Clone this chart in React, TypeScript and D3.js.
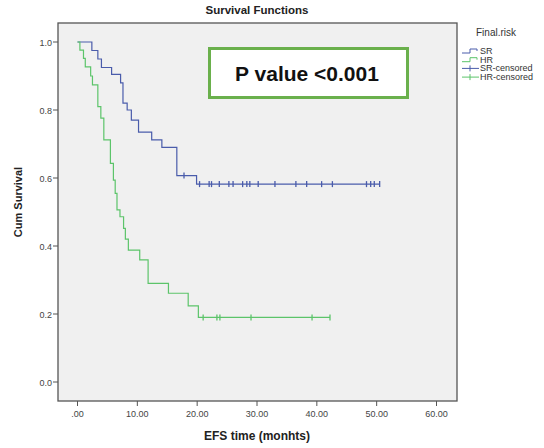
import React from 'react';
import * as d3 from 'd3';

// SR group: event times (months) and survival after each event
const srTimes = [0, 2.4, 3.4, 4.0, 5.7, 7.2, 7.6, 8.3, 9.0, 10.2, 12.4, 14.1, 16.6, 19.9];
const srSurv = [1.0, 0.975, 0.95, 0.925, 0.905, 0.88, 0.82, 0.80, 0.77, 0.735, 0.712, 0.69, 0.607, 0.582];
const srCensored = [17.8, 20.4, 22.0, 22.4, 23.7, 25.3, 26.0, 27.6, 28.3, 28.8, 30.2, 33.0, 36.5, 38.3, 40.8, 42.6, 48.3, 49.0, 49.6, 50.5];

// HR group
const hrTimes = [0, 0.4, 1.0, 1.3, 2.2, 2.5, 3.4, 3.9, 4.4, 5.5, 6.0, 6.3, 6.6, 7.1, 7.7, 8.0, 8.5, 10.4, 11.8, 15.2, 18.5, 20.2];
const hrSurv = [1.0, 0.976, 0.952, 0.927, 0.90, 0.874, 0.81, 0.776, 0.712, 0.643, 0.594, 0.555, 0.506, 0.486, 0.452, 0.42, 0.388, 0.359, 0.29, 0.261, 0.224, 0.19];
const hrCensored = [21.0, 23.3, 23.8, 29.0, 39.2, 42.2];

const xTicks = [0, 10, 20, 30, 40, 50, 60];
const yTicks = [0, 0.2, 0.4, 0.6, 0.8, 1.0];
const legendItems = ['SR', 'HR', 'SR-censored', 'HR-censored'];

const colorSR = '#4a5cab';
const colorHR = '#5cc46a';
const font = 'Liberation Sans, Arial, sans-serif';

const frame = { left: 58, top: 23, right: 457, bottom: 401 };

export default function App() {
  const x = d3.scaleLinear().domain([0, 60]).range([77.5, 436.5]);
  const y = d3.scaleLinear().domain([0, 1]).range([382, 42]);
  const line = d3.line<[number, number]>()
    .x(d => x(d[0]))
    .y(d => y(d[1]))
    .curve(d3.curveStepAfter);

  const survAt = (times: number[], surv: number[], t: number) => {
    const i = d3.bisectRight(times, t) - 1;
    return surv[Math.max(0, i)];
  };

  const groups = [
    { times: srTimes, surv: srSurv, cens: srCensored, color: colorSR },
    { times: hrTimes, surv: hrSurv, cens: hrCensored, color: colorHR },
  ];

  return (
    <div style={{ position: 'absolute', left: 0, top: 0 }}>
      <svg width={544} height={448} style={{ display: 'block', fontFamily: font }}>
        <rect x={0} y={0} width={544} height={448} fill='#ffffff' />

        {/* title */}
        <text x={257} y={14} textAnchor='middle' fontSize={11.5} fontWeight='bold' fill='#222'>
          Survival Functions
        </text>

        {/* plot frame */}
        <rect
          x={frame.left}
          y={frame.top}
          width={frame.right - frame.left}
          height={frame.bottom - frame.top}
          fill='#f0f0f0'
          stroke='#555'
          strokeWidth={1.3}
        />

        {/* curves */}
        {groups.map((g, gi) => {
          const last = d3.max(g.cens) as number;
          const pts: [number, number][] = g.times.map((t, i) => [t, g.surv[i]]);
          pts.push([last, g.surv[g.surv.length - 1]]);
          return (
            <g key={gi}>
              <path d={line(pts) || ''} fill='none' stroke={g.color} strokeWidth={1.2} />
              {g.cens.map((t, i) => {
                const cx = x(t);
                const cy = y(survAt(g.times, g.surv, t));
                return (
                  <line key={i} x1={cx} x2={cx} y1={cy - 3} y2={cy + 3} stroke={g.color} strokeWidth={1.3} />
                );
              })}
            </g>
          );
        })}

        {/* P value box */}
        <rect x={209.5} y={48.5} width={198} height={49} fill='#ffffff' stroke='#6ab04c' strokeWidth={3} />
        <text x={307} y={81} textAnchor='middle' fontSize={21} fontWeight='bold' fill='#111'>
          P value &lt;0.001
        </text>

        {/* y axis */}
        {yTicks.map(v => (
          <g key={v}>
            <line x1={frame.left - 5} x2={frame.left} y1={y(v)} y2={y(v)} stroke='#555' strokeWidth={1} />
            <text x={frame.left - 6} y={y(v) + 3.5} textAnchor='end' fontSize={9} fill='#444'>
              {v.toFixed(1)}
            </text>
          </g>
        ))}
        <text
          transform={`translate(22,${(frame.top + frame.bottom) / 2 - 10}) rotate(-90)`}
          textAnchor='middle'
          fontSize={11}
          fontWeight='bold'
          fill='#222'
        >
          Cum Survival
        </text>

        {/* x axis */}
        {xTicks.map(v => (
          <g key={v}>
            <line x1={x(v)} x2={x(v)} y1={frame.bottom} y2={frame.bottom + 5} stroke='#555' strokeWidth={1} />
            <text x={x(v)} y={frame.bottom + 16} textAnchor='middle' fontSize={9} fill='#444'>
              {v === 0 ? '.00' : v.toFixed(2)}
            </text>
          </g>
        ))}
        <text x={257} y={440} textAnchor='middle' fontSize={12} fontWeight='bold' fill='#222'>
          EFS time (monhts)
        </text>

        {/* legend */}
        <text x={476} y={36} fontSize={10} fill='#333'>Final.risk</text>
        {legendItems.map((name, i) => {
          const ly = 51 + i * 8.7;
          const col = i % 2 === 0 ? colorSR : colorHR;
          return (
            <g key={name}>
              {i < 2 ? (
                <path d={`M462,${ly + 2}H470V${ly - 2}H477V${ly}`} fill='none' stroke={col} strokeWidth={1} />
              ) : (
                <g>
                  <line x1={462} x2={479} y1={ly} y2={ly} stroke={col} strokeWidth={1} />
                  <line x1={470} x2={470} y1={ly - 3} y2={ly + 3} stroke={col} strokeWidth={1} />
                </g>
              )}
              <text x={480} y={ly + 3} fontSize={9} fill='#333'>{name}</text>
            </g>
          );
        })}
      </svg>
    </div>
  );
}
